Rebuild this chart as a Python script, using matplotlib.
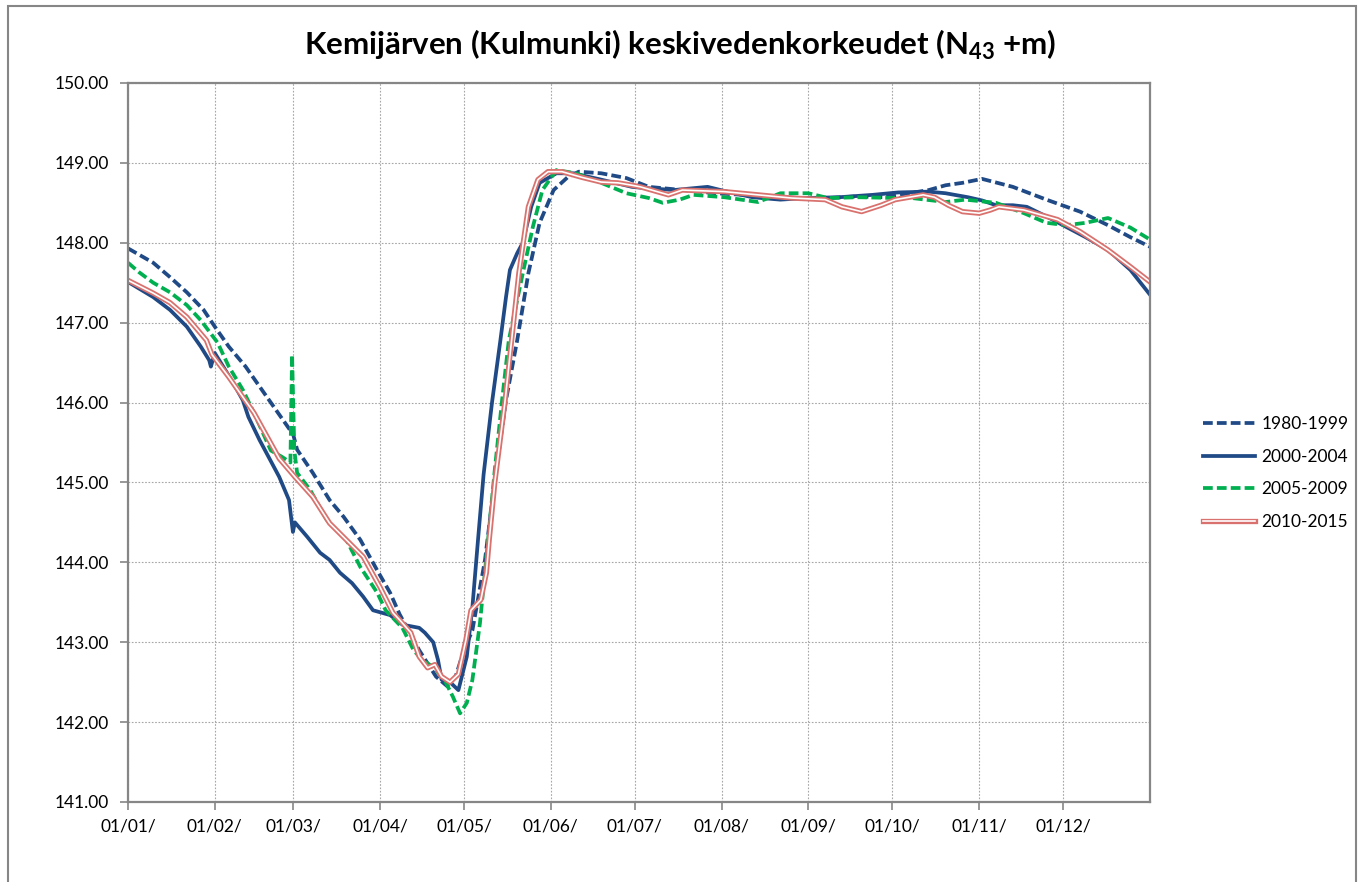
import matplotlib
matplotlib.use("Agg")
import matplotlib.pyplot as plt
import matplotlib.patheffects as pe
from matplotlib.patches import Rectangle

plt.rcParams['font.family'] = ['Lato', 'DejaVu Sans']

# ---- data (day of year, water level N43 +m) ----
month_days = [0, 31, 59, 90, 120, 151, 181, 212, 243, 273, 304, 334]
month_labels = ["01/01/", "01/02/", "01/03/", "01/04/", "01/05/", "01/06/",
                "01/07/", "01/08/", "01/09/", "01/10/", "01/11/", "01/12/"]

d1980 = [0, 9, 15, 21, 27, 31, 36, 42, 47, 52, 59, 60.4, 66, 72, 77, 83, 89, 93.6, 97, 104,
         110, 114, 117, 120, 123, 127.5, 131, 135, 139, 143, 147, 152, 157, 161, 169, 178,
         186, 195, 210, 230, 245, 260, 270, 286, 292, 298, 305, 316, 328, 340, 350, 358, 365]
v1980 = [147.93, 147.75, 147.57, 147.38, 147.16, 146.95, 146.70, 146.45, 146.20, 145.95,
         145.60, 145.41, 145.12, 144.78, 144.57, 144.28, 143.90, 143.62, 143.35, 142.90,
         142.57, 142.45, 142.57, 142.90, 143.15, 144.03, 145.03, 146.03, 146.78, 147.62,
         148.25, 148.66, 148.82, 148.89, 148.87, 148.81, 148.70, 148.67, 148.62, 148.58,
         148.55, 148.58, 148.57, 148.66, 148.72, 148.75, 148.80, 148.70, 148.54, 148.39,
         148.22, 148.07, 147.95]

d2000 = [0, 9, 15, 21, 26, 29, 29.6, 31, 37, 41, 43, 47, 54, 57.5, 58.9, 59.6, 64, 68.6, 72,
         75.7, 80, 84, 87.5, 93.6, 98, 104, 106, 109, 110.7, 112, 115, 118, 121, 123, 125, 127,
         130, 133, 135, 136.4, 139, 141, 144, 147, 153, 159, 169, 180, 183, 195, 207, 214, 223,
         233, 242, 254, 266, 275, 286, 292, 300, 305, 310, 316, 321, 328, 335, 342, 350, 358, 365]
v2000 = [147.51, 147.32, 147.16, 146.95, 146.70, 146.53, 146.45, 146.62, 146.28, 146.03,
         145.82, 145.53, 145.07, 144.78, 144.38, 144.50, 144.32, 144.12, 144.03, 143.87,
         143.74, 143.57, 143.40, 143.34, 143.22, 143.18, 143.12, 143.00, 142.78, 142.53,
         142.50, 142.40, 142.82, 143.44, 144.28, 145.10, 146.00, 146.78, 147.32, 147.66,
         147.87, 148.00, 148.45, 148.75, 148.87, 148.87, 148.79, 148.70, 148.69, 148.66,
         148.70, 148.64, 148.57, 148.54, 148.56, 148.57, 148.60, 148.63, 148.64, 148.62,
         148.57, 148.53, 148.47, 148.47, 148.45, 148.33, 148.20, 148.07, 147.91, 147.66, 147.35]

d2005 = [0, 4, 9, 15, 21, 26, 32, 36, 41, 45, 51, 55, 58, 58.6, 59.4, 60.4, 65, 71, 78, 83, 89,
         92, 98, 102, 105, 109, 113, 116, 118.6, 121, 123, 125.7, 128, 131, 133.6, 136, 141,
         144.6, 148, 153, 160, 169, 178, 186, 191, 197, 202, 213, 225, 233, 243, 250, 261, 275,
         280, 292, 299, 310, 320, 328, 335, 342, 350, 358, 365]
v2005 = [147.75, 147.63, 147.50, 147.38, 147.22, 147.03, 146.75, 146.45, 146.16, 145.87,
         145.40, 145.32, 145.25, 146.60, 145.40, 145.12, 144.91, 144.53, 144.28, 143.94, 143.62,
         143.40, 143.18, 142.90, 142.78, 142.69, 142.53, 142.32, 142.11, 142.24, 142.53,
         143.24, 144.07, 145.16, 146.03, 146.78, 147.62, 148.20, 148.66, 148.91, 148.87,
         148.75, 148.62, 148.56, 148.50, 148.54, 148.60, 148.57, 148.51, 148.62, 148.62,
         148.56, 148.57, 148.56, 148.56, 148.51, 148.54, 148.50, 148.37, 148.25, 148.22,
         148.25, 148.31, 148.19, 148.04]

d2010 = [0, 9, 15, 21, 28, 30, 36, 40, 45, 54, 59.6, 66, 72, 78, 84, 90, 94.6, 97, 101, 104,
         107, 109.6, 112, 115, 118, 120.7, 122.5, 126, 128, 129, 131, 134.6, 137, 139.6, 143,
         146.4, 150, 155, 162, 169, 175, 180, 183, 193, 198, 213, 225, 237, 249, 255, 262, 269,
         274, 284, 288, 293, 298, 304, 308, 311, 320, 332, 340, 350, 358, 365]
v2010 = [147.53, 147.37, 147.25, 147.07, 146.78, 146.60, 146.32, 146.12, 145.87, 145.30,
         145.07, 144.82, 144.49, 144.28, 144.07, 143.69, 143.37, 143.28, 143.12, 142.82,
         142.68, 142.72, 142.57, 142.50, 142.60, 143.03, 143.40, 143.53, 143.87, 144.28,
         145.00, 146.00, 146.78, 147.62, 148.45, 148.79, 148.89, 148.89, 148.82, 148.76,
         148.75, 148.72, 148.70, 148.60, 148.66, 148.64, 148.60, 148.56, 148.54, 148.45,
         148.39, 148.47, 148.54, 148.60, 148.57, 148.47, 148.39, 148.37, 148.41, 148.45,
         148.41, 148.29, 148.14, 147.91, 147.70, 147.51]

labels = ["1980-1999", "2000-2004", "2005-2009", "2010-2015"]

NAVY = "#1F4A86"
GREEN = "#00B050"
RED = "#D9726E"
GRID = "#A6A6A6"
FRAME = "#868686"

fig = plt.figure(figsize=(13.61, 8.82), dpi=100)
ax = fig.add_axes([128/1361, 1-802/882, (1150-128)/1361, (802-83)/882])

dash = (2.6, 1.1)
l1, = ax.plot(d1980, v1980, color=NAVY, lw=2.7, linestyle=(0, dash), label=labels[0])
l2, = ax.plot(d2000, v2000, color=NAVY, lw=2.7, linestyle='-', label=labels[1])
l3, = ax.plot(d2005, v2005, color=GREEN, lw=2.7, linestyle=(0, dash), label=labels[2])
l4, = ax.plot(d2010, v2010, color='white', lw=1.2, linestyle='-', label=labels[3],
              path_effects=[pe.Stroke(linewidth=3.8, foreground=RED), pe.Normal()])

ax.set_xlim(0, 365)
ax.set_ylim(141, 150)
ax.set_xticks(month_days)
ax.set_xticklabels(month_labels)
ax.set_yticks(range(141, 151))
ax.set_yticklabels([f"{v:.2f}" for v in range(141, 151)])
ax.tick_params(axis='both', labelsize=12.5, length=6, width=1.2, direction='out',
               color=FRAME, labelcolor='black')
ax.tick_params(axis='x', pad=6)
ax.tick_params(axis='y', pad=8)
ax.grid(True, color=GRID, lw=0.8, linestyle=(0, (1.5, 1.5)))
ax.set_axisbelow(True)
for s in ax.spines.values():
    s.set_color(FRAME)
    s.set_linewidth(1.6)

fig.text(0.5, 1-45/882, "Kemijärven (Kulmunki) keskivedenkorkeudet (N$_\\mathregular{43}$ +m)",
         ha='center', va='center', fontsize=22.5, fontweight='bold')

fig.legend(handles=[l1, l2, l3, l4], loc='center left', bbox_to_anchor=(1203/1361, 1-473/882),
           frameon=False, fontsize=12.5, handlelength=3.0, handletextpad=0.35,
           labelspacing=0.95, borderpad=0, borderaxespad=0)

fig.patches.append(Rectangle((8/1361, -0.05), (1356-8)/1361, 1.05-6/882,
                             transform=fig.transFigure, fill=False, edgecolor=FRAME,
                             lw=1.5, figure=fig))

fig.savefig("out.png", dpi=100)
